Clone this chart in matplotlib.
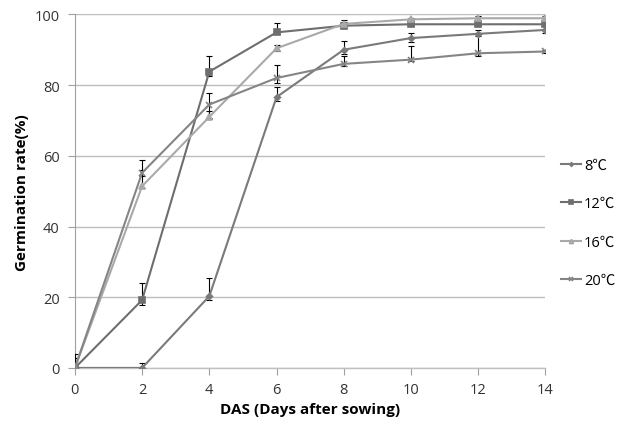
import matplotlib
matplotlib.use('Agg')
import matplotlib.pyplot as plt
import numpy as np

plt.rcParams['font.family'] = ['Open Sans', 'Noto Sans CJK KR', 'DejaVu Sans']

# days after sowing
days = [0, 2, 4, 6, 8, 10, 12, 14]

# germination rate (%) per temperature
g8 = [0, 0, 20.3, 76.6, 90.0, 93.3, 94.5, 95.6]
g12 = [0, 19.2, 83.8, 94.9, 96.8, 97.2, 97.2, 97.2]
g16 = [0, 51.4, 71.0, 90.4, 97.3, 98.6, 98.9, 98.9]
g20 = [0, 55.2, 74.5, 82.0, 86.0, 87.2, 89.0, 89.5]

# error bars (lower, upper)
e8_lo = [0, 0, 1.1, 1.0, 1.2, 1.0, 0.6, 0.8]
e8_hi = [0, 1.4, 5.1, 2.8, 2.4, 1.5, 1.2, 0.4]
e12_lo = [0, 1.4, 1.1, 0.5, 0.5, 0.5, 0.5, 0.5]
e12_hi = [2.8, 4.8, 4.5, 2.6, 1.6, 0.5, 0.5, 0.5]
e16_lo = [0, 0.5, 0.5, 0.8, 0.5, 0.5, 0.5, 0.5]
e16_hi = [3.9, 4.6, 1.8, 0.8, 0.5, 0.5, 0.5, 0.5]
e20_lo = [0, 0.8, 3.8, 1.3, 0.6, 0.4, 0.8, 0.4]
e20_hi = [0, 3.6, 3.4, 3.8, 2.3, 3.8, 5.5, 0.4]

labels = ['8℃', '12℃', '16℃', '20℃']
colors = ['#7a7a7a', '#6e6e6e', '#a9a9a9', '#858585']
markers = ['D', 's', '^', 'x']
msizes = [3, 5, 5, 5]

series = [(g8, e8_lo, e8_hi), (g12, e12_lo, e12_hi),
          (g16, e16_lo, e16_hi), (g20, e20_lo, e20_hi)]

fig = plt.figure(figsize=(6.19, 4.27), dpi=100)
ax = fig.add_axes([0.121, 0.136, 0.76, 0.828])

handles = []
for (vals, lo, hi), lab, c, m, ms in zip(series, labels, colors, markers, msizes):
    ax.errorbar(days, vals, yerr=[lo, hi], fmt='none', ecolor='black',
                elinewidth=0.8, capsize=2.5, capthick=0.8, zorder=3)
    h, = ax.plot(days, vals, color=c, lw=1.5, marker=m, ms=ms,
                 mew=1.2, label=lab, zorder=4)
    handles.append(h)

ax.set_xlim(0, 14)
ax.set_ylim(0, 100)
ax.set_xticks(range(0, 15, 2))
ax.set_yticks(range(0, 101, 20))
ax.yaxis.grid(True, color='#bdbdbd', lw=1)
ax.set_axisbelow(True)
for s in ['top', 'right']:
    ax.spines[s].set_visible(False)
ax.spines['left'].set_color('#a0a0a0')
ax.spines['bottom'].set_color('#c0c0c0')
ax.spines['bottom'].set_linewidth(1)
ax.tick_params(axis='both', colors='#a0a0a0', labelcolor='#333333',
               labelsize=10.5, length=5, width=0.8)
ax.tick_params(axis='y', pad=6)
ax.tick_params(axis='x', pad=5)

ax.set_xlabel('DAS (Days after sowing)', fontsize=11, fontweight='bold',
              labelpad=4)
ax.set_ylabel('Germination rate(%)', fontsize=11, fontweight='bold',
              labelpad=4)

leg = ax.legend(handles=handles, loc='center left', bbox_to_anchor=(1.005, 0.41),
                frameon=False, fontsize=10.5, handlelength=1.4,
                handletextpad=0.2, labelspacing=1.6, markerscale=0.6)

fig.savefig('out.png', dpi=100)
